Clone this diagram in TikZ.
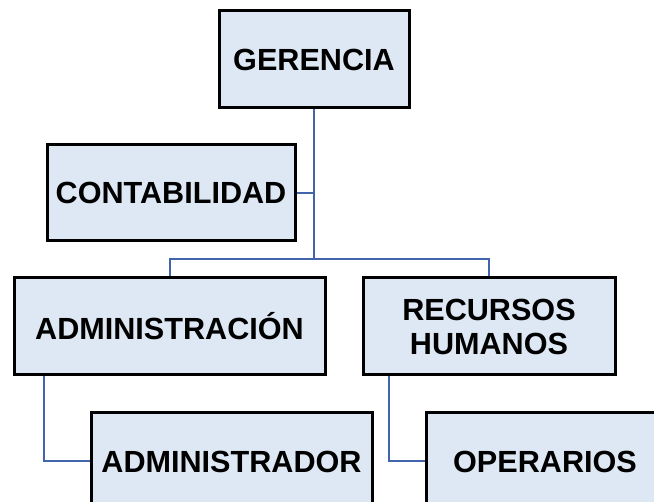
\documentclass[tikz,border=0pt]{standalone}
\usepackage{fontspec}
\setmainfont{Liberation Sans}
\usetikzlibrary{calc}
\definecolor{boxfill}{RGB}{222,232,244}
\definecolor{linkblue}{RGB}{65,100,170}
\begin{document}
\begin{tikzpicture}[x=1pt,y=-1pt,
  orgbox/.style={draw=black, line width=3pt, fill=boxfill, inner sep=0pt,
    font=\fontsize{30.6}{34}\selectfont\bfseries, align=center},
  link/.style={draw=linkblue, line width=2pt}]
\useasboundingbox (0,0) rectangle (654,502);
\clip (0,0) rectangle (654,502);
\node[orgbox, minimum width=190pt, minimum height=97pt] (ger) at (314,59.5) {GERENCIA};
\node[orgbox, minimum width=248pt, minimum height=96pt] (con) at (171,193) {CONTABILIDAD};
\node[orgbox, minimum width=311pt, minimum height=97pt] (adm) at (169.5,326.5) {ADMINISTRACIÓN};
\node[orgbox, minimum width=252pt, minimum height=97pt] (rec) at (489,326.5) {RECURSOS\\HUMANOS};
\node[orgbox, minimum width=281pt, minimum height=97pt] (admr) at (231.5,461.5) {ADMINISTRADOR};
\node[orgbox, minimum width=238pt, minimum height=97pt] (ope) at (545,461.5) {OPERARIOS};
\coordinate (hub) at (ger.south |- 0,259);
\draw[link] (ger.south) -- (hub);
\draw[link] (con.east) -- (ger.south |- con.east);
\draw[link] (adm.north) |- (hub) -| (rec.north);
\draw[link] ([xshift=31pt]adm.south west) |- (admr.west);
\draw[link] ([xshift=27pt]rec.south west) |- (ope.west);
\end{tikzpicture}
\end{document}
